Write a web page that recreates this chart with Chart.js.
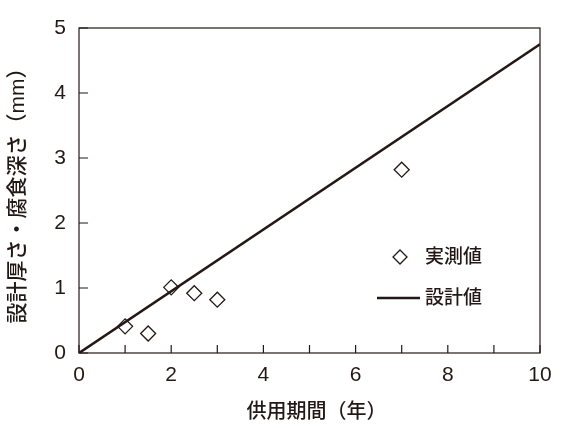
<!DOCTYPE html>
<html>
<head>
<meta charset="utf-8">
<script src="https://cdn.jsdelivr.net/npm/chart.js@4/dist/chart.umd.min.js"></script>
<style>
  html, body { margin: 0; padding: 0; background: #fff; }
  #wrap { width: 568px; height: 428px; }
</style>
</head>
<body>
<div id="wrap"><canvas id="myChart" width="568" height="428"></canvas></div>
<script>
// data
var measuredYears = [1, 1.5, 2, 2.5, 3, 7];
var measuredDepth = [0.41, 0.30, 1.01, 0.92, 0.82, 2.82];
var designYears = [0, 10];
var designThickness = [0, 4.75];
var seriesNames = ['実測値', '設計値'];
var xTitle = '供用期間（年）';
var yTitle = '設計厚さ・腐食深さ（mm）';

var ink = '#231815';
var fontFam = "'Liberation Sans', Arial, 'Noto Sans CJK JP', sans-serif";

var measuredPts = [];
for (var i = 0; i < measuredYears.length; i++) {
    measuredPts.push({x: measuredYears[i], y: measuredDepth[i]});
}
var designPts = [];
for (var i = 0; i < designYears.length; i++) {
    designPts.push({x: designYears[i], y: designThickness[i]});
}

// frame + inward ticks + legend inside the plot
var framePlugin = {
    id: 'frame',
    afterDraw: function(chart) {
        var c = chart.ctx;
        var a = chart.chartArea;
        c.save();
        c.strokeStyle = ink;
        c.lineWidth = 1.2;
        c.strokeRect(a.left, a.top, a.right - a.left, a.bottom - a.top);

        var xs = chart.scales.x, ys = chart.scales.y;
        c.beginPath();
        xs.ticks.forEach(function(t) {
            var px = xs.getPixelForValue(t.value);
            c.moveTo(px, a.bottom);
            c.lineTo(px, a.bottom - 8);
        });
        ys.ticks.forEach(function(t) {
            var py = ys.getPixelForValue(t.value);
            c.moveTo(a.left, py);
            c.lineTo(a.left + 9, py);
        });
        c.stroke();

        // legend
        c.fillStyle = ink;
        c.font = '500 19px ' + fontFam;
        c.textBaseline = 'middle';
        c.textAlign = 'left';
        var lx = 377, ly1 = 257, ly2 = 298;
        c.lineWidth = 1.3;
        c.beginPath();
        c.moveTo(400, ly1 - 7);
        c.lineTo(407, ly1);
        c.lineTo(400, ly1 + 7);
        c.lineTo(393, ly1);
        c.closePath();
        c.stroke();
        c.fillText(seriesNames[0], 425, ly1 + 1);
        c.lineWidth = 2.6;
        c.beginPath();
        c.moveTo(lx, ly2);
        c.lineTo(420, ly2);
        c.stroke();
        c.fillText(seriesNames[1], 425, ly2 + 1);

        // x title, drawn here so it can sit a little right of centre like the original
        c.font = '500 20px ' + fontFam;
        c.textAlign = 'center';
        c.fillText(xTitle, (a.left + a.right) / 2 + 7, 412);
        c.restore();
    }
};

var ctx = document.getElementById('myChart').getContext('2d');
var myChart = new Chart(ctx, {
    type: 'scatter',
    data: {
        datasets: [{
            label: seriesNames[0],
            data: measuredPts,
            pointStyle: 'rectRot',
            pointRadius: 7.5,
            pointBorderWidth: 1.3,
            pointBorderColor: ink,
            pointBackgroundColor: 'rgba(0,0,0,0)',
            showLine: false
        }, {
            label: seriesNames[1],
            data: designPts,
            showLine: true,
            borderColor: ink,
            borderWidth: 2.6,
            pointRadius: 0
        }]
    },
    plugins: [framePlugin],
    options: {
        responsive: false,
        animation: false,
        layout: { padding: { left: 0, right: 28, top: 28, bottom: 0 } },
        plugins: {
            legend: { display: false },
            tooltip: { enabled: false }
        },
        scales: {
            x: {
                type: 'linear',
                min: 0, max: 10,
                border: { display: false },
                grid: { display: false, drawTicks: false },
                ticks: {
                    stepSize: 1,
                    padding: 10,
                    color: ink,
                    font: { family: fontFam, size: 21 },
                    maxRotation: 0,
                    callback: function(v) { return v % 2 === 0 ? v : ''; }
                },
                afterFit: function(s) { s.height = 75; }
            },
            y: {
                type: 'linear',
                min: 0, max: 5,
                border: { display: false },
                grid: { display: false, drawTicks: false },
                ticks: {
                    stepSize: 1,
                    padding: 13,
                    color: ink,
                    font: { family: fontFam, size: 21 }
                },
                title: {
                    display: true,
                    text: yTitle,
                    color: ink,
                    font: { family: fontFam, size: 21, weight: '500' },
                    padding: { top: 6, bottom: 0 }
                },
                afterFit: function(s) { s.width = 79; }
            }
        }
    }
});
</script>
</body>
</html>
